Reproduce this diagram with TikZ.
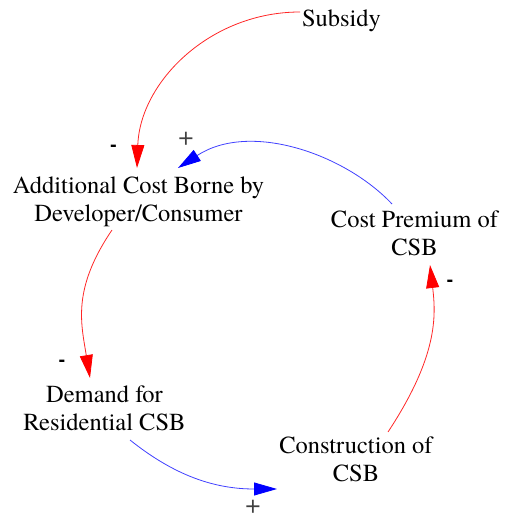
\documentclass[tikz,border=0pt]{standalone}
\usepackage{fontspec}
\setmainfont{TeX Gyre Termes}
\newfontfamily\varfont{TeX Gyre Termes}
\newfontfamily\signfont{Liberation Sans}
\usetikzlibrary{arrows.meta}
\begin{document}
\begin{tikzpicture}[x=1pt,y=1pt,
  var/.style={inner sep=0pt,align=center,font=\varfont\fontsize{24.5}{28}\selectfont},
  neglink/.style={draw=red!85,line width=0.8pt,-{Triangle[length=23pt,width=13pt,fill=red,color=red]}},
  poslink/.style={draw=blue!75,line width=0.8pt,-{Triangle[length=23pt,width=13pt,fill=blue,color=blue]}},
  minus/.style={inner sep=0pt,font=\signfont\bfseries\fontsize{20}{20}\selectfont},
  plus/.style={inner sep=0pt,text=black!75,font=\varfont\fontsize{27}{27}\selectfont}]
\useasboundingbox (0,0) rectangle (504,521);
\node[var] (sub) at (341.5,500) {Subsidy};
\node[var] (add) at (138.5,319) {Additional Cost Borne by\\Developer/Consumer};
\node[var] (prem) at (414.5,287.5) {Cost Premium of\\CSB};
\node[var] (dem) at (104.5,112.8) {Demand for\\Residential CSB};
\node[var] (con) at (356,61.2) {Construction of\\CSB};
% links
\draw[neglink] ([shift={(-41.5,9)}]sub.center) .. controls +(-90,0) and +(3,86) .. ([shift={(-1.5,34)}]add.center);
\draw[poslink] ([shift={(-22.5,29.5)}]prem.center) .. controls +(-47,50) and +(72,47) .. ([shift={(39.5,34)}]add.center);
\draw[neglink] ([shift={(-26.5,-28)}]add.center) .. controls +(-40,-59) and +(-9,55) .. ([shift={(-14.5,30.2)}]dem.center);
\draw[poslink] ([shift={(25.5,-31.8)}]dem.center) .. controls +(45,-36) and +(-62,0) .. ([shift={(-79,-29.2)}]con.center);
\draw[neglink] ([shift={(32,27.8)}]con.center) .. controls +(50,76) and +(6,-51) .. ([shift={(15.5,-31.5)}]prem.center);
% polarities
\node[minus] (m1) at (113.5,373) {-};
\node[plus] (p1) at (186,382) {+};
\node[minus] (m2) at (62,158) {-};
\node[plus] (p2) at (253,14) {+};
\node[minus] (m3) at (450,238) {-};
\end{tikzpicture}
\end{document}
